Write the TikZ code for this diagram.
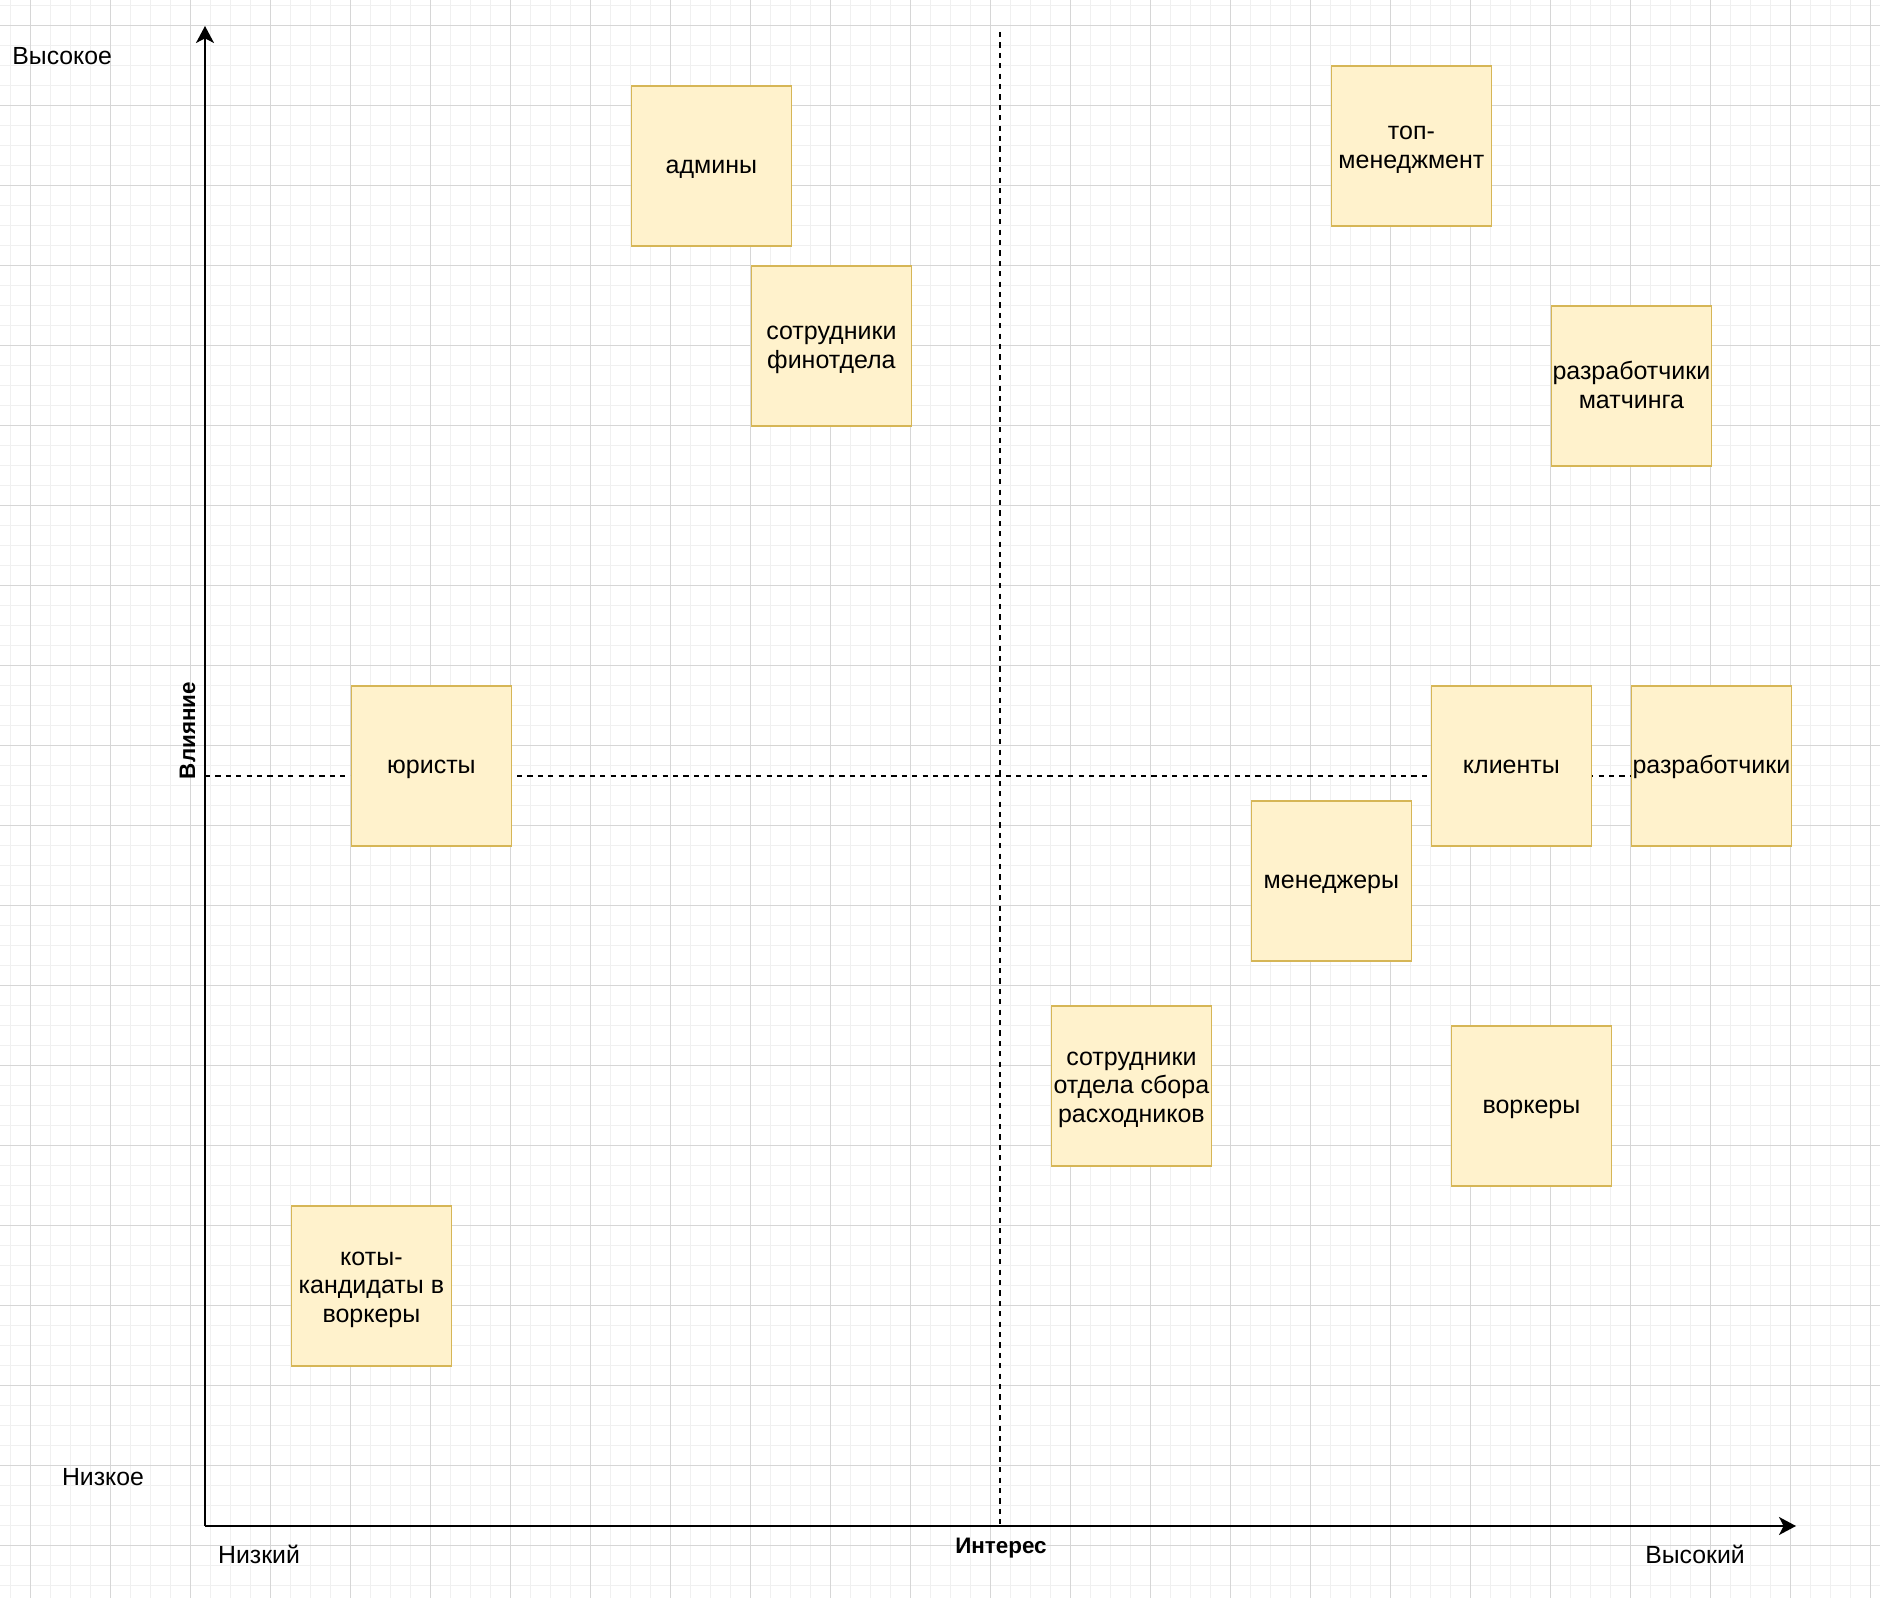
\documentclass[tikz,border=0pt]{standalone}
\usepackage{fontspec}
\setmainfont{Liberation Sans}
\usetikzlibrary{arrows.meta}
\definecolor{boxfill}{HTML}{FFF2CC}
\definecolor{boxedge}{HTML}{D6B656}
\definecolor{gridmajor}{HTML}{D6D6D6}
\definecolor{gridminor}{HTML}{F0F0F0}
\tikzset{
  stake/.style={draw=boxedge, fill=boxfill, line width=0.8pt, minimum width=80pt, minimum height=80pt,
    inner sep=0pt, anchor=north west},
  stakelabel/.style={inner sep=0pt, align=center, yshift=-1.0pt, font=\fontsize{12.5}{14.4}\selectfont},
  lab/.style={inner sep=0pt, font=\fontsize{12.4}{14}\selectfont},
  axislabel/.style={inner sep=0pt, font=\fontsize{11.2}{13}\selectfont\bfseries},
  axisline/.style={line width=0.8pt, -{Stealth[length=8.5pt, width=9pt, inset=2.3pt]}},
  divider/.style={line width=0.9pt, dash pattern=on 2.6pt off 2.6pt},
  minorline/.style={gridminor, line width=0.5pt},
  majorline/.style={gridmajor, line width=0.5pt}
}
\newcommand\stakeholder[3]{\node[stake, label={[stakelabel]center:{\strut #3\strut}}] (#1) at #2 {};}
\begin{document}
\begin{tikzpicture}[x=0.5pt, y=-0.5pt]
\useasboundingbox (0,0) rectangle (1880,1598);
\fill[white] (0,0) rectangle (1880,1598);
% grid
\foreach \i in {0,...,93} { \draw[minorline] (10.6+20*\i,0) -- (10.6+20*\i,1598); }
\foreach \j in {0,...,79} { \draw[minorline] (0,5.3+20*\j) -- (1880,5.3+20*\j); }
\foreach \i in {0,...,23} { \draw[majorline] (30.6+80*\i,0) -- (30.6+80*\i,1598); }
\foreach \j in {0,...,19} { \draw[majorline] (0,25.3+80*\j) -- (1880,25.3+80*\j); }
% coordinates
\coordinate (origin) at (205,1526);
\coordinate (ytop) at (205,26);
\coordinate (xend) at (1796,1526);
\coordinate (vtop) at (1000,32);
\coordinate (vbot) at (1000,1526);
\coordinate (hleft) at (205,776);
\coordinate (hright) at (1794,776);
% dividers
\draw[divider] (vtop) -- (vbot);
\draw[divider] (hleft) -- (hright);
% axes
\draw[axisline] (origin) -- (ytop);
\draw[axisline] (origin) -- (xend);
% stakeholders
\stakeholder{admins}{(630.6,85.3)}{админы}
\stakeholder{fin}{(750.6,265.3)}{сотрудники\\финотдела}
\stakeholder{top}{(1330.6,65.3)}{топ-\\менеджмент}
\stakeholder{devmatch}{(1550.6,305.3)}{разработчики\\матчинга}
\stakeholder{lawyers}{(350.6,685.3)}{юристы}
\stakeholder{clients}{(1430.6,685.3)}{клиенты}
\stakeholder{devs}{(1630.6,685.3)}{разработчики}
\stakeholder{managers}{(1250.6,800)}{менеджеры}
\stakeholder{supply}{(1050.6,1005.3)}{сотрудники\\отдела сбора\\расходников}
\stakeholder{workers}{(1450.6,1025.3)}{воркеры}
\stakeholder{cats}{(290.6,1205.3)}{коты-\\кандидаты в\\воркеры}
% labels
\node[lab, anchor=base west] (hiinf) at (12,65) {Высокое};
\node[lab, anchor=base] (loinf) at (103,1485) {Низкое};
\node[lab, anchor=base] (loint) at (259,1563) {Низкий};
\node[axislabel, anchor=base] (interest) at (1001,1553) {Интерес};
\node[lab, anchor=base] (hiint) at (1695,1563) {Высокий};
\node[axislabel, anchor=base, rotate=90] (influence) at (195,730.5) {Влияние};
\end{tikzpicture}
\end{document}
